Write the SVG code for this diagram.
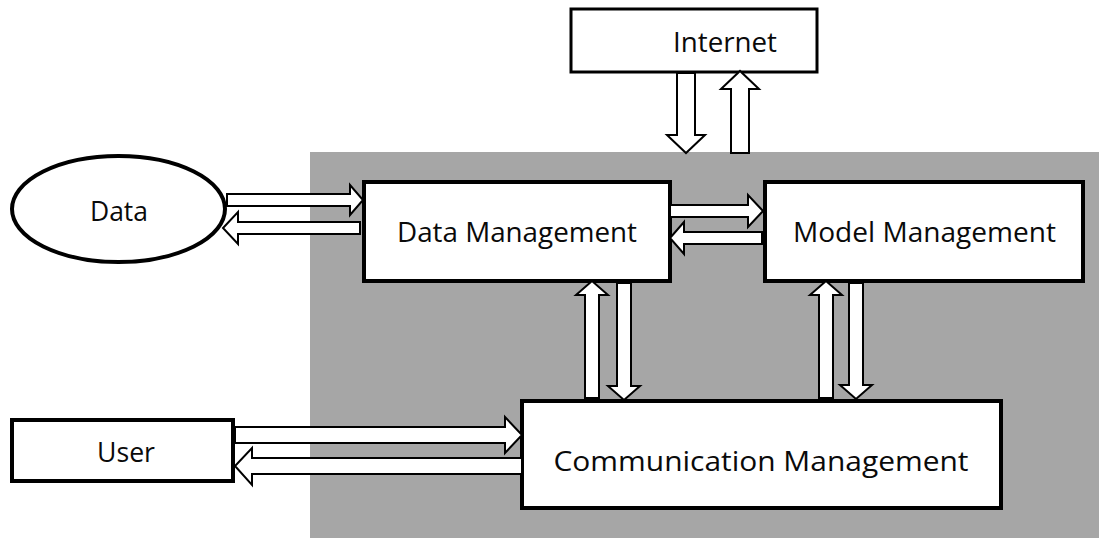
<svg xmlns="http://www.w3.org/2000/svg" width="1099" height="538" viewBox="0 0 1099 538">
  <style>
    .box { fill: #ffffff; stroke: #000000; stroke-width: 4; }
    .thin { stroke-width: 3; }
    .lbl { font-family: "Open Sans", "Liberation Sans", sans-serif; font-size: 27px; fill: #0a0a0a; text-anchor: middle; }
    .arrow { fill: #ffffff; stroke: #000000; stroke-width: 2; stroke-linejoin: miter; }
  </style>

  <!-- shaded system boundary -->
  <rect id="system" x="310" y="152" width="789" height="386" fill="#a6a6a6"/>

  <g id="internet">
    <rect class="box thin" x="571" y="9" width="246" height="63"/>
    <text class="lbl" x="725" y="52" textLength="104" lengthAdjust="spacingAndGlyphs">Internet</text>
  </g>

  <g id="data">
    <ellipse class="box" cx="118.5" cy="209" rx="106.5" ry="53"/>
    <text class="lbl" x="119" y="221" textLength="58" lengthAdjust="spacingAndGlyphs">Data</text>
  </g>

  <g id="data-management">
    <rect class="box" x="364" y="182" width="306" height="99"/>
    <text class="lbl" x="517" y="242" textLength="240" lengthAdjust="spacingAndGlyphs">Data Management</text>
  </g>

  <g id="model-management">
    <rect class="box" x="765" y="182" width="318" height="99"/>
    <text class="lbl" x="924.5" y="242" textLength="263" lengthAdjust="spacingAndGlyphs">Model Management</text>
  </g>

  <g id="user">
    <rect class="box" x="12" y="420" width="221" height="61"/>
    <text class="lbl" x="126" y="462" textLength="58" lengthAdjust="spacingAndGlyphs">User</text>
  </g>

  <g id="communication-management">
    <rect class="box" x="522" y="401" width="479" height="107"/>
    <text class="lbl" x="761" y="471" textLength="415" lengthAdjust="spacingAndGlyphs">Communication Management</text>
  </g>

  <g id="connectors">
    <!-- Data <-> Data Management -->
    <polygon class="arrow" points="227,194 350,194 350,185 363,200 350,215 350,206 227,206"/>
    <polygon class="arrow" points="360,222 238,222 238,212 223,228 238,244 238,234 360,234"/>
    <!-- Data Management <-> Model Management -->
    <polygon class="arrow" points="670,205 748,205 748,195 763,211 748,227 748,217 670,217"/>
    <polygon class="arrow" points="762,232 684,232 684,222 670,238 684,254 684,244 762,244"/>
    <!-- Data Management <-> Communication Management -->
    <polygon class="arrow" points="585,398 585,295 576,295 592,281 608,295 599,295 599,398"/>
    <polygon class="arrow" points="617,283 631,283 631,386 640,386 624,400 608,386 617,386"/>
    <!-- Model Management <-> Communication Management -->
    <polygon class="arrow" points="819,398 819,295 810,295 826,281 842,295 833,295 833,398"/>
    <polygon class="arrow" points="849,283 863,283 863,385 872,385 856,399 840,385 849,385"/>
    <!-- Internet <-> system -->
    <polygon class="arrow" points="677,73 695,73 695,135 705,135 686,153 667,135 677,135"/>
    <polygon class="arrow" points="731,153 731,89 721,89 740,71 759,89 749,89 749,153"/>
    <!-- User <-> Communication Management -->
    <polygon class="arrow" points="235,427 505,427 505,417 522,435 505,453 505,443 235,443"/>
    <polygon class="arrow" points="522,458 252,458 252,448 235,466 252,485 252,474 522,474"/>
  </g>
</svg>
